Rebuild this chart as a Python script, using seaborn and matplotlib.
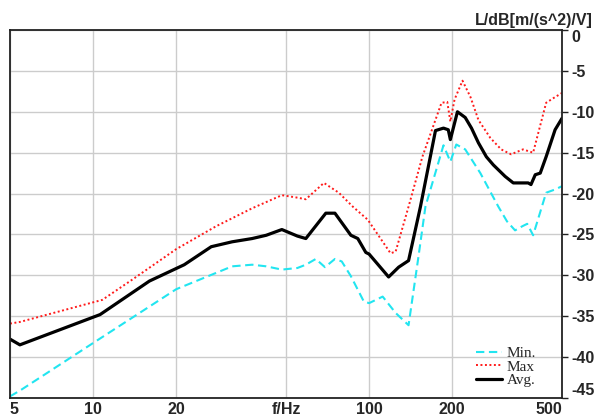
import numpy as np
import pandas as pd
import matplotlib
matplotlib.use("Agg")
import matplotlib.pyplot as plt
import seaborn as sns

# ---- data ----
avg_f = [5, 5.43, 10.6, 16.0, 21.4, 26.8, 31.9, 37.7, 42.4, 48.3, 55.0, 59.0, 69.7, 75.2,
         85.9, 91.0, 97.3, 100, 117.7, 128, 139, 153.5, 174, 186, 193.6, 197, 209, 223,
         235, 249, 266, 282, 311, 333, 377, 386, 400, 417, 438, 472, 500]
avg_db = [-37.8, -38.5, -34.8, -30.7, -28.7, -26.5, -25.9, -25.5, -25.1, -24.4, -25.2, -25.5,
          -22.4, -22.4, -25.1, -25.5, -27.2, -27.4, -30.2, -29.0, -28.2, -21.6, -12.3, -12.0,
          -12.2, -13.4, -10.0, -10.7, -12.0, -13.8, -15.5, -16.5, -17.9, -18.7, -18.7, -18.9,
          -17.7, -17.5, -15.5, -12.2, -10.8]

max_f = [5, 5.43, 10.8, 13.9, 20.0, 27.9, 37.7, 48.3, 55.0, 59.0, 68.6, 77.7, 87.3, 98.9,
         119.6, 124.8, 139, 156, 183, 192, 197, 204, 218, 233, 249, 275, 301, 327, 361, 393,
         438, 472, 500]
max_db = [-35.9, -35.7, -33.0, -30.5, -26.8, -24.0, -21.8, -20.2, -20.5, -20.7, -18.7, -19.9,
          -21.6, -23.2, -27.3, -27.1, -21.6, -15.5, -8.9, -8.8, -11.2, -8.5, -6.2, -8.2,
          -11.0, -13.2, -14.6, -15.2, -14.6, -15.0, -8.9, -8.2, -7.7]

min_f = [5, 5.43, 9.98, 20.0, 27.0, 31.9, 37.7, 42.4, 48.3, 55.0, 59.0, 64.1, 69.2, 75.2,
         79.6, 85.9, 95.7, 100, 112, 124.8, 139, 151, 160, 186, 197, 207, 223, 253, 294, 316,
         338, 359, 374, 393, 438, 472, 500]
min_db = [-44.8, -44.1, -38.3, -31.7, -29.9, -28.9, -28.7, -28.9, -29.3, -29.1, -28.7, -28.0,
          -29.0, -28.0, -28.3, -30.1, -33.2, -33.4, -32.6, -34.6, -36.1, -27.7, -21.6, -14.1,
          -16.1, -14.0, -14.6, -17.5, -21.6, -23.4, -24.5, -24.0, -23.7, -25.1, -19.9, -19.5,
          -19.1]

xticks = [5, 10, 20, 50, 100, 200, 500]
xtick_labels = ["5", "10", "20", "f/Hz", "100", "200", "500"]
yticks = [0, -5, -10, -15, -20, -25, -30, -35, -40, -45]
ylabel = "L/dB[m/(s^2)/V]"
series_names = ["Min.", "Max", "Avg."]

# ---- plot ----
sns.set_theme(style="white")
plt.rcParams["font.family"] = ["Liberation Sans", "DejaVu Sans"]

fig = plt.figure(figsize=(5.97, 4.17), dpi=100)
ax = fig.add_axes([10 / 597, 19 / 417, 552 / 597, 368 / 417])

sns.lineplot(x=min_f, y=min_db, ax=ax, color="#22e5f0", lw=1.5, linestyle=(0, (4, 2.2)),
             label=series_names[0], sort=False)
sns.lineplot(x=max_f, y=max_db, ax=ax, color="#ff1a1a", lw=1.4, linestyle=(0, (1, 1.3)),
             label=series_names[1], sort=False)
sns.lineplot(x=avg_f, y=avg_db, ax=ax, color="black", lw=2.3, linestyle="-",
             label=series_names[2], sort=False)

ax.set_xscale("log")
ax.set_xlim(5, 500)
ax.set_ylim(-45, 0)
ax.set_xticks(xticks)
ax.set_xticklabels(xtick_labels)
ax.xaxis.set_minor_locator(matplotlib.ticker.NullLocator())
ax.set_yticks(yticks)
ax.set_yticklabels([str(v) for v in yticks])
ax.yaxis.tick_right()
ax.set_xlabel("")
ax.set_ylabel("")

ax.grid(True, color="#cccccc", lw=1.0)
for s in ax.spines.values():
    s.set_color("#222222")
    s.set_linewidth(1.3)

ax.tick_params(axis="y", which="major", right=True, direction="out", length=4, width=1,
               color="#222222", pad=3, labelsize=11.5)
ax.tick_params(axis="x", which="major", bottom=True, direction="out", length=0, pad=3,
               labelsize=11.5)
for lab in ax.get_xticklabels() + ax.get_yticklabels():
    lab.set_fontweight("bold")
xl = ax.get_xticklabels()
xl[0].set_ha("left")
xl[-1].set_ha("right")
yl = ax.get_yticklabels()
yl[0].set_va("top")
yl[-1].set_va("bottom")

fig.text(593 / 597, 1 - 21 / 417, ylabel, ha="right", va="center", fontsize=11.5,
         fontweight="bold")

leg = ax.legend(loc="lower right", frameon=False,
                prop={"family": ["Liberation Serif"], "size": 11},
                handlelength=1.7, handletextpad=0.35, labelspacing=0.0,
                borderaxespad=0.3, bbox_to_anchor=(0.973, 0.0))

fig.savefig("out.png", dpi=100)
